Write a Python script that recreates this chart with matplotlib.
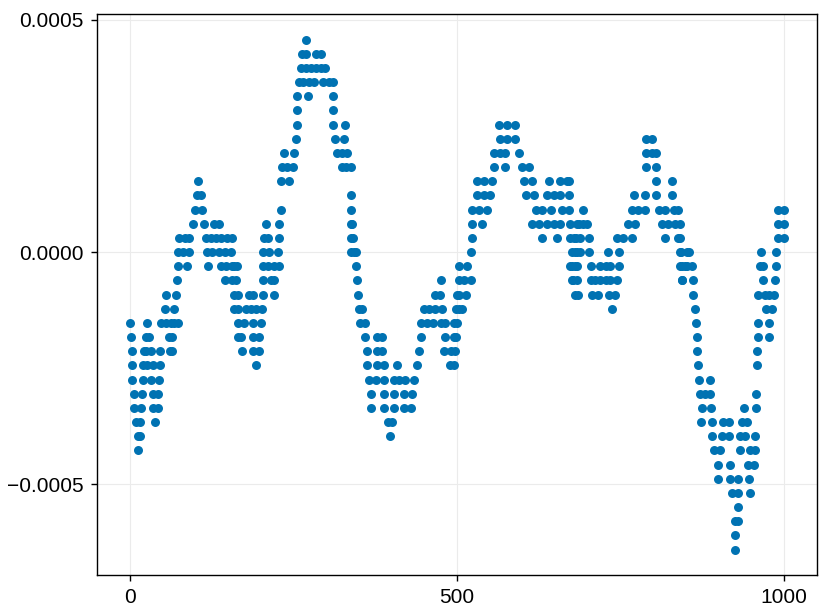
import numpy as np
import matplotlib
matplotlib.use("Agg")
import matplotlib.pyplot as plt

# y values are integer sample levels (int16 style), value = level / 32768
# for each level: x positions (sample index) of the dots
lvl_15 = [269]
lvl_14 = [263, 270, 284, 292]
lvl_13 = [261, 269, 277, 284, 292, 298]
lvl_12 = [258, 265, 274, 282, 295, 305, 311]
lvl_11 = [256, 273, 310]
lvl_10 = [255, 311]
lvl_9 = [255, 311, 329, 564, 576, 589]
lvl_8 = [254, 314, 327, 566, 576, 589, 789, 798]
lvl_7 = [236, 251, 317, 325, 332, 556, 566, 574, 594, 789, 798, 804]
lvl_6 = [232, 241, 249, 324, 331, 338, 556, 574, 599, 610, 788, 804]
lvl_5 = [105, 231, 243, 531, 541, 554, 602, 615, 640, 657, 668, 671, 804, 828]
lvl_4 = [103, 109, 338, 531, 541, 551, 605, 617, 637, 648, 658, 671, 770, 787, 804, 829]
lvl_3 = [99, 111, 231, 338, 523, 533, 546, 620, 630, 643, 660, 671, 693, 767, 777,
         787, 809, 818, 831, 838, 991, 1000]
lvl_2 = [96, 114, 129, 136, 208, 228, 338, 340, 523, 538, 615, 625, 637, 648, 657,
         672, 683, 686, 693, 698, 762, 772, 813, 823, 833, 841, 991, 1000]
lvl_1 = [76, 84, 91, 116, 124, 132, 139, 149, 157, 205, 212, 228, 338, 341, 523, 630,
         653, 672, 682, 678, 688, 701, 744, 754, 767, 818, 838, 841, 991, 1000]
lvl_0 = [73, 81, 91, 118, 126, 137, 146, 155, 203, 213, 227, 338, 342, 345, 522, 676,
         683, 681, 688, 701, 730, 747, 841, 851, 842, 855, 965, 988]
lvl_m1 = [73, 88, 120, 139, 147, 157, 160, 164, 203, 212, 221, 228, 345, 503, 515, 676,
          683, 673, 681, 704, 719, 727, 734, 747, 841, 849, 843, 851, 859, 963, 968, 987]
lvl_m2 = [72, 146, 157, 162, 203, 216, 221, 347, 475, 503, 510, 521, 677, 683, 676, 704,
          711, 719, 727, 734, 744, 843, 844, 860, 968, 986]
lvl_m3 = [55, 71, 160, 165, 182, 188, 203, 221, 348, 466, 474, 503, 500, 513, 681, 685,
          706, 716, 732, 742, 861, 960, 970, 977, 985]
lvl_m4 = [54, 68, 160, 165, 177, 185, 193, 202, 350, 355, 449, 457, 467, 477, 503, 498,
          508, 737, 863, 972, 981]
lvl_m5 = [1, 27, 48, 55, 63, 68, 73, 165, 175, 188, 200, 352, 359, 445, 454, 464, 475,
          482, 495, 500, 865, 960, 976]
lvl_m6 = [2, 25, 30, 60, 65, 165, 170, 189, 198, 360, 378, 386, 445, 481, 495, 498, 866,
          960, 977]
lvl_m7 = [3, 22, 25, 33, 47, 62, 65, 171, 189, 198, 362, 378, 386, 442, 480, 491, 497,
          866, 959]
lvl_m8 = [4, 20, 27, 35, 46, 193, 363, 378, 388, 409, 439, 489, 495, 868, 958]
lvl_m9 = [4, 20, 33, 45, 366, 376, 389, 404, 411, 420, 435, 870, 887]
lvl_m10 = [6, 19, 35, 43, 368, 389, 404, 419, 432, 871, 879, 887, 957]
lvl_m11 = [7, 17, 35, 43, 368, 389, 403, 419, 429, 874, 888, 939, 957]
lvl_m12 = [9, 16, 39, 395, 401, 873, 889, 907, 915, 935, 943]
lvl_m13 = [12, 16, 398, 889, 905, 915, 933, 940, 956]
lvl_m14 = [12, 892, 902, 933, 948, 955]
lvl_m15 = [898, 917, 945, 953]
lvl_m16 = [898, 917, 930, 946]
lvl_m17 = [920, 929, 948]
lvl_m18 = [930]
lvl_m19 = [924, 929]
lvl_m20 = [925]
lvl_m21 = [925]

levels = [15, 14, 13, 12, 11, 10, 9, 8, 7, 6, 5, 4, 3, 2, 1, 0, -1, -2, -3, -4, -5,
          -6, -7, -8, -9, -10, -11, -12, -13, -14, -15, -16, -17, -18, -19, -20, -21]
rows = [lvl_15, lvl_14, lvl_13, lvl_12, lvl_11, lvl_10, lvl_9, lvl_8, lvl_7, lvl_6,
        lvl_5, lvl_4, lvl_3, lvl_2, lvl_1, lvl_0, lvl_m1, lvl_m2, lvl_m3, lvl_m4,
        lvl_m5, lvl_m6, lvl_m7, lvl_m8, lvl_m9, lvl_m10, lvl_m11, lvl_m12, lvl_m13,
        lvl_m14, lvl_m15, lvl_m16, lvl_m17, lvl_m18, lvl_m19, lvl_m20, lvl_m21]

xs = []
ys = []
for k, r in zip(levels, rows):
    xs += r
    ys += [k / 32768] * len(r)
xs = np.array(xs, dtype=float)
ys = np.array(ys)

plt.rcParams['font.family'] = ['Liberation Sans', 'DejaVu Sans']

fig = plt.figure(figsize=(8.19, 6.11), dpi=100)
W, H = 819, 611
ax = fig.add_axes([97 / W, (H - 575) / H, (817 - 97) / W, (575 - 14) / H])

ax.scatter(xs, ys, s=42, color='#0072B2', linewidths=0, zorder=3)

ymin, ymax = -21 / 32768, 15 / 32768
m = 0.05 * (ymax - ymin)
ax.set_ylim(ymin - m, ymax + m)
ax.set_xlim(-50, 1050)

ax.set_xticks([0, 500, 1000])
ax.set_yticks([-0.0005, 0.0, 0.0005])
ax.set_yticklabels(['\u22120.0005', '0.0000', '0.0005'])
ax.grid(True, color='#ebebeb', linewidth=0.8, zorder=0)
ax.set_axisbelow(True)
for s in ax.spines.values():
    s.set_linewidth(1.0)
    s.set_color('black')
ax.tick_params(direction='out', length=4.5, width=1.0, labelsize=15, pad=5)

fig.savefig('out.png', dpi=100)
